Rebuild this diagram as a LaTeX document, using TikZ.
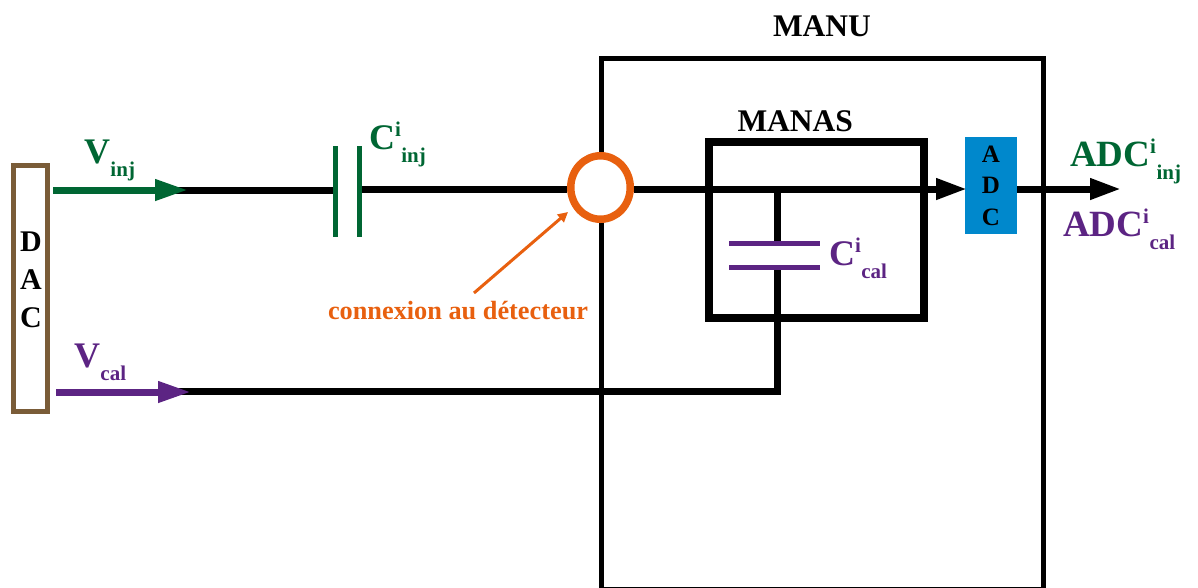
\documentclass[tikz,border=0pt]{standalone}
\usepackage{fontspec}
\setmainfont{Liberation Serif}
\usetikzlibrary{arrows.meta,shapes.geometric}
\definecolor{injgreen}{HTML}{006633}
\definecolor{calpurple}{HTML}{5C2483}
\definecolor{detorange}{HTML}{E8600F}
\definecolor{dacbrown}{HTML}{7A5C38}
\definecolor{adcblue}{HTML}{0088CC}
\newcommand{\sized}[1]{\fontsize{#1}{#1}\selectfont\bfseries}
\newcommand{\mainlab}[4]{\sized{#1}#2\sized{21}\ifx&#3&\else\raisebox{12.5pt}{#3}\fi\kern0.5pt\raisebox{-13pt}{#4}}
\tikzset{
  txt/.style={inner sep=0pt,outer sep=0pt,anchor=base west},
  wire/.style={line width=7pt,black},
  frame/.style={line width=5pt,black,line join=miter},
  plate/.style={line width=5pt},
  feed/.style={line width=7pt,-{Triangle[length=33pt,width=20pt]}},
  tiparrow/.style={wire,shorten >=-2pt,-{Triangle[length=31pt,width=20pt]}},
}
\begin{document}
\begin{tikzpicture}[x=1pt,y=-1pt]
\useasboundingbox (0,0) rectangle (1198,587);
% named points
\coordinate (vinjS) at (53,190);
\coordinate (vinjE) at (188,190);
\coordinate (wireA) at (175,190);
\coordinate (ci1T) at (335,146);
\coordinate (ci1B) at (335,237);
\coordinate (ci2T) at (359,146);
\coordinate (ci2B) at (359,237);
\coordinate (ci1M) at (335,190);
\coordinate (ci2M) at (359,189);
\coordinate (vcalS) at (56,392);
\coordinate (vcalE) at (191,392);
\coordinate (wireB) at (175,391);
\coordinate (corner) at (777,391);
\coordinate (tee) at (777,189);
\coordinate (cc1L) at (729,243);
\coordinate (cc1R) at (820,243);
\coordinate (cc2L) at (729,267);
\coordinate (cc2R) at (820,267);
\coordinate (cc1M) at (777,243);
\coordinate (cc2M) at (777,267);
\coordinate (outEnd) at (1119,189);
\coordinate (noteS) at (474,293);
\coordinate (noteE) at (568,212);

% frames
\begin{scope}
\clip (0,0) rectangle (1198,587);
\node[draw,frame,minimum width=442pt,minimum height=531pt,inner sep=0pt,outer sep=0pt] (manu) at (822,323.5) {};
\end{scope}
\node[draw,line width=7.5pt,minimum width=215pt,minimum height=176pt,inner sep=0pt,outer sep=0pt] (manas) at (816.5,230) {};
\node[draw=dacbrown,line width=5pt,minimum width=34pt,minimum height=246pt,inner sep=0pt,outer sep=0pt] (dac) at (30.5,288.5) {};
\node[inner sep=0pt,align=center,font=\sized{30}] (dactext) at (31,280) {D\\[8pt]A\\[8pt]C};

% ADC block
\node[fill=adcblue,minimum width=52pt,minimum height=97pt,inner sep=0pt,outer sep=0pt,align=center,font=\sized{25}] (adc) at (991,185.5) {A\\[6.5pt]D\\[6.5pt]C};

% detector connection
\node[draw=detorange,fill=white,line width=7.5pt,ellipse,minimum width=59.5pt,minimum height=63.5pt,inner sep=0pt,outer sep=3.75pt] (det) at (600.5,187.5) {};

% wires
\draw[wire] (wireA) -- (ci1M);
\draw[wire] (ci2M) -- (det.west |- ci2M);
\draw[wire] (det.east |- tee) -- (tee);
\draw[tiparrow] (tee) -- (adc.west |- tee);
\draw[tiparrow] (adc.east |- tee) -- (outEnd);
\draw[wire,line cap=butt] (wireB) -- (corner) -- (cc2M);
\draw[wire] (tee) -- (cc1M);

% feeds
\draw[feed,injgreen] (vinjS) -- (vinjE);
\draw[feed,calpurple] (vcalS) -- (vcalE);

% capacitors
\draw[plate,injgreen] (ci1T) -- (ci1B);
\draw[plate,injgreen] (ci2T) -- (ci2B);
\draw[plate,calpurple] (cc1L) -- (cc1R);
\draw[plate,calpurple] (cc2L) -- (cc2R);

% note arrow
\node[txt,text=detorange,font=\sized{26.3}] (note) at (328,319) {connexion au détecteur};
\draw[detorange,line width=3pt,-{Triangle[length=10pt,width=10pt]}] (noteS) -- (noteE);

% labels
\node[txt] (manulabel) at (773,36) {\sized{31.5}MANU};
\node[txt] (manaslabel) at (737.5,131.5) {\sized{31.5}MANAS};
\node[txt,text=injgreen] (vinj) at (84,163) {\mainlab{36}{V}{}{inj}};
\node[txt,text=calpurple] (vcal) at (74,367) {\mainlab{36}{V}{}{cal}};
\node[txt,text=injgreen] (cinj) at (369,149) {\mainlab{36}{C}{i}{inj}};
\node[txt,text=calpurple] (ccal) at (829,265) {\mainlab{36}{C}{i}{cal}};
\node[txt,text=injgreen] (adcinj) at (1070,166) {\mainlab{37}{ADC}{i}{inj}};
\node[txt,text=calpurple] (adccal) at (1063,236) {\mainlab{37}{ADC}{i}{cal}};
\end{tikzpicture}
\end{document}
